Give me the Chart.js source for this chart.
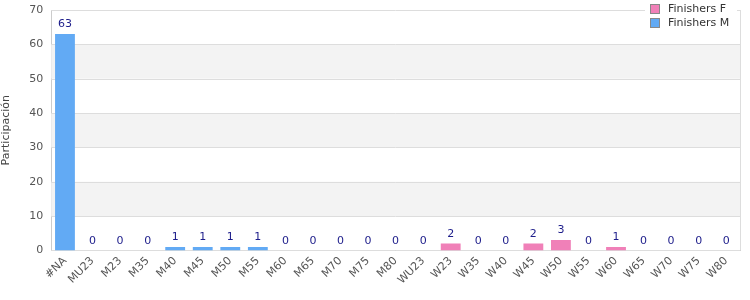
<!DOCTYPE html>
<html>
<head>
<meta charset="utf-8">
<script src="https://cdn.jsdelivr.net/npm/chart.js@4"></script>
<style>
  body { margin: 0; background: #fff; }
  #wrap { width: 750px; height: 300px; }
</style>
</head>
<body>
<div id="wrap"><canvas id="myChart"></canvas></div>
<script>
var categories = ['#NA','MU23','M23','M35','M40','M45','M50','M55','M60','M65','M70','M75','M80',
    'WU23','W23','W35','W40','W45','W50','W55','W60','W65','W70','W75','W80'];
var finishersF = [0,0,0,0,0,0,0,0,0,0,0,0,0, 0,2,0,0,2,3,0,1,0,0,0,0];
var finishersM = [63,0,0,0,1,1,1,1,0,0,0,0,0, 0,0,0,0,0,0,0,0,0,0,0,0];
var yTicks = [0,10,20,30,40,50,60,70];

var FONT = "'DejaVu Sans', Verdana, sans-serif";

// grey bands behind every other 10 units
var bands = {
    id: 'bands',
    beforeDatasetsDraw: function(chart) {
        var c = chart.ctx, a = chart.chartArea, y = chart.scales.y;
        c.save();
        c.fillStyle = '#f3f3f3';
        for (var v = 10; v < 70; v += 20) {
            var top = y.getPixelForValue(v + 10), bot = y.getPixelForValue(v);
            c.fillRect(a.left, top, a.right - a.left, bot - top);
        }
        // grid lines over the bands
        c.strokeStyle = '#dddddd';
        c.lineWidth = 1;
        yTicks.forEach(function(t) {
            var py = Math.round(y.getPixelForValue(t)) + 0.5;
            c.beginPath(); c.moveTo(a.left, py); c.lineTo(a.right, py); c.stroke();
        });
        c.beginPath();
        c.moveTo(Math.round(a.right) + 0.5, a.top);
        c.lineTo(Math.round(a.right) + 0.5, a.bottom);
        c.stroke();
        c.restore();
    }
};

// totals above each stack + legend box
var extras = {
    id: 'extras',
    afterDatasetsDraw: function(chart) {
        var c = chart.ctx, x = chart.scales.x, y = chart.scales.y;
        c.save();
        c.font = '11px ' + FONT;
        c.fillStyle = '#1c1c8a';
        c.textAlign = 'center';
        c.textBaseline = 'bottom';
        categories.forEach(function(cat, i) {
            var total = finishersF[i] + finishersM[i];
            c.fillText(String(total), x.getPixelForValue(i), y.getPixelForValue(total) - 4);
        });

        // legend
        var lx = 645, ly = 2;
        c.fillStyle = '#ffffff';
        c.fillRect(lx, ly, 92, 30);
        var items = [['Finishers F', '#f080b8'], ['Finishers M', '#62aaf4']];
        c.textAlign = 'left';
        c.textBaseline = 'middle';
        items.forEach(function(it, k) {
            var yy = ly + 7 + k * 14;
            c.fillStyle = it[1];
            c.fillRect(lx + 6, yy - 4, 8, 8);
            c.strokeStyle = '#888';
            c.lineWidth = 1;
            c.strokeRect(lx + 5.5, yy - 4.5, 9, 9);
            c.fillStyle = '#333';
            c.fillText(it[0], lx + 23, yy);
        });
        c.restore();
    }
};

var ctx = document.getElementById('myChart').getContext('2d');
var myChart = new Chart(ctx, {
    type: 'bar',
    data: {
        labels: categories,
        datasets: [{
            label: 'Finishers F',
            data: finishersF,
            backgroundColor: '#f080b8'
        }, {
            label: 'Finishers M',
            data: finishersM,
            backgroundColor: '#62aaf4'
        }]
    },
    options: {
        responsive: true,
        maintainAspectRatio: false,
        animation: false,
        categoryPercentage: 1,
        barPercentage: 0.72,
        layout: { padding: { top: 10, right: 10, left: 0, bottom: 9 } },
        plugins: {
            legend: { display: false },
            tooltip: { enabled: false }
        },
        scales: {
            x: {
                stacked: true,
                grid: { display: false, drawTicks: false },
                border: { color: '#cccccc' },
                ticks: {
                    color: '#555',
                    font: { family: FONT, size: 11 },
                    maxRotation: 45,
                    minRotation: 45,
                    autoSkip: false,
                    padding: 4
                }
            },
            y: {
                stacked: true,
                min: 0,
                max: 70,
                grid: { display: false, drawTicks: false },
                border: { color: '#cccccc' },
                afterBuildTicks: function(axis) {
                    axis.ticks = yTicks.map(function(v) { return { value: v }; });
                },
                afterFit: function(axis) {
                    axis.paddingTop = 0;
                },
                ticks: {
                    color: '#555',
                    font: { family: FONT, size: 11 },
                    padding: 8
                },
                title: {
                    display: true,
                    text: 'Participación',
                    color: '#444',
                    font: { family: FONT, size: 11 },
                    padding: { top: 0, bottom: 8 }
                }
            }
        }
    },
    plugins: [bands, extras]
});
</script>
</body>
</html>
